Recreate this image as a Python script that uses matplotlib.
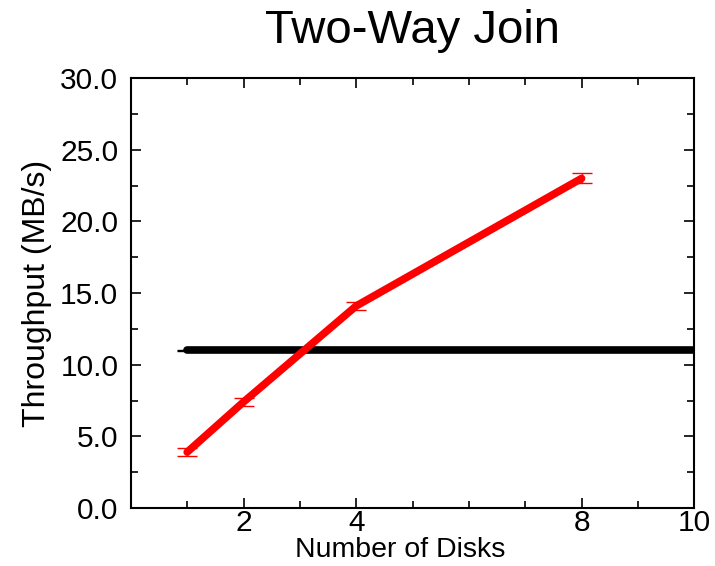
#!/usr/bin/env python3

import matplotlib
matplotlib.use("Agg")
import matplotlib.pyplot as plt
from matplotlib.ticker import MultipleLocator, FixedLocator

# data
disks = [1, 2, 4, 8]
throughput = [3.9, 7.4, 14.1, 23.0]
throughput_err = [0.3, 0.3, 0.3, 0.35]

base_disks = [1, 10]
base_throughput = [11.0, 11.0]
base_err = [0.05, 0.05]

x_ticks = [2, 4, 8, 10]


def main():
    plt.rcParams["font.family"] = ["Liberation Sans", "DejaVu Sans"]
    fig = plt.figure(figsize=(7.15, 5.66), dpi=100)
    ax = fig.add_axes([0.183, 0.1025, 0.788, 0.7595])

    # baseline (black) and measured (red) curves
    ax.errorbar(base_disks, base_throughput, yerr=base_err, color="black",
                lw=5.5, elinewidth=1, capsize=7, capthick=1,
                solid_capstyle="round")
    ax.errorbar(disks, throughput, yerr=throughput_err, color="red",
                lw=5.5, elinewidth=1, capsize=7, capthick=1,
                solid_capstyle="round")

    ax.set_xlim(0, 10)
    ax.set_ylim(0, 30)
    ax.xaxis.set_major_locator(FixedLocator(x_ticks))
    ax.xaxis.set_minor_locator(MultipleLocator(1))
    ax.yaxis.set_major_locator(MultipleLocator(5))
    ax.yaxis.set_minor_locator(MultipleLocator(2.5))
    ax.yaxis.set_major_formatter(plt.FormatStrFormatter("%.1f"))

    ax.tick_params(which="both", direction="in", top=True, right=True,
                   labelsize=21.5, width=1.2)
    ax.tick_params(axis="y", pad=9)
    ax.tick_params(axis="x", pad=1)
    ax.tick_params(which="major", length=7)
    ax.tick_params(which="minor", length=5)
    for s in ax.spines.values():
        s.set_linewidth(1.5)

    ax.set_title("Two-Way Join", fontsize=34, pad=25)
    ax.set_xlabel("Number of Disks", fontsize=20.5)
    ax.xaxis.set_label_coords(0.478, -0.115, transform=ax.transAxes)
    ax.xaxis.label.set_va("baseline")
    ax.set_ylabel("Throughput (MB/s)", fontsize=23, labelpad=6)

    plt.savefig("out.png")


if __name__ == "__main__":
    main()
